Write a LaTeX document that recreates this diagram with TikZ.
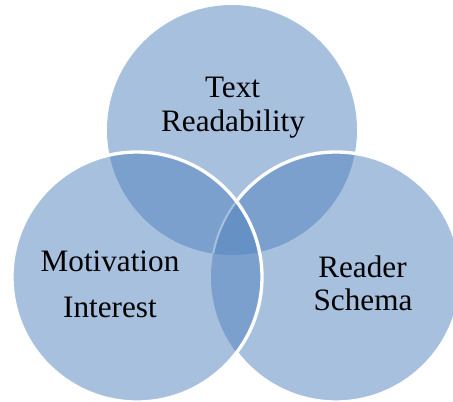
\documentclass[tikz,border=0pt]{standalone}
\usepackage{fontspec}
\setmainfont{Liberation Serif}
\definecolor{vlight}{RGB}{167,192,222}
\definecolor{vmid}{RGB}{123,160,205}
\definecolor{vdark}{RGB}{101,145,197}
\begin{document}
\begin{tikzpicture}[x=0.75pt,y=-0.75pt,
  lbl/.style={font=\fontsize{23.4pt}{28pt}\selectfont, inner sep=0pt, anchor=base, text=black},
  rim/.style={draw=white, line width=2.5pt}]
\useasboundingbox (0,0) rectangle (453,402);
\coordinate (ct) at (232,130);
\coordinate (cl) at (137,277);
\coordinate (cr) at (336,277);
\def\R{93.75pt}
% top and right circles
\fill[vlight] (ct) circle[radius=\R];
\fill[vlight] (cr) circle[radius=\R];
\begin{scope}
  \clip (ct) circle[radius=\R];
  \fill[vmid] (cr) circle[radius=\R];
\end{scope}
\draw[rim] (cr) circle[radius=\R];
% left circle
\fill[vlight] (cl) circle[radius=\R];
\begin{scope}
  \clip (cl) circle[radius=\R];
  \fill[vmid] (ct) circle[radius=\R];
  \fill[vmid] (cr) circle[radius=\R];
  \clip (ct) circle[radius=\R];
  \fill[vdark] (cr) circle[radius=\R];
  \draw[vlight, line width=1.5pt] (cr) circle[radius=\R];
\end{scope}
\draw[rim] (cl) circle[radius=\R];
% labels
\node[lbl] (t1) at (232.5,98) {Text};
\node[lbl] (t2) at (233,132) {Readability};
\node[lbl] (m1) at (110,272) {Motivation};
\node[lbl] (m2) at (110,318) {Interest};
\node[lbl] (r1) at (362.5,278) {Reader};
\node[lbl] (r2) at (363,311) {Schema};
\end{tikzpicture}
\end{document}
